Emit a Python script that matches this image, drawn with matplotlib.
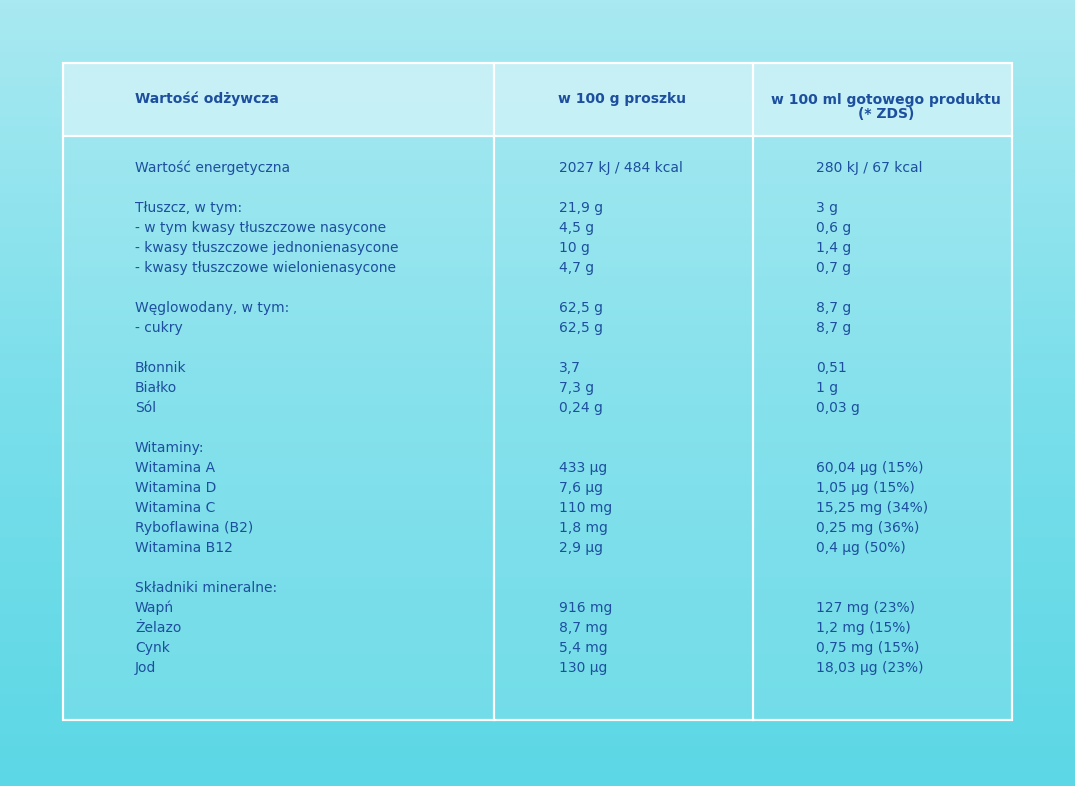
import numpy as np
import matplotlib.pyplot as plt
from matplotlib.patches import Rectangle
from matplotlib.colors import LinearSegmentedColormap

headers = ["Wartość odżywcza", "w 100 g proszku", "w 100 ml gotowego produktu\n(* ZDS)"]

nutrients = [
    "Wartość energetyczna", "",
    "Tłuszcz, w tym:", "- w tym kwasy tłuszczowe nasycone",
    "- kwasy tłuszczowe jednonienasycone", "- kwasy tłuszczowe wielonienasycone", "",
    "Węglowodany, w tym:", "- cukry", "",
    "Błonnik", "Białko", "Sól", "",
    "Witaminy:", "Witamina A", "Witamina D", "Witamina C", "Ryboflawina (B2)", "Witamina B12", "",
    "Składniki mineralne:", "Wapń", "Żelazo", "Cynk", "Jod",
]
per_100g = [
    "2027 kJ / 484 kcal", "",
    "21,9 g", "4,5 g", "10 g", "4,7 g", "",
    "62,5 g", "62,5 g", "",
    "3,7", "7,3 g", "0,24 g", "",
    "", "433 µg", "7,6 µg", "110 mg", "1,8 mg", "2,9 µg", "",
    "", "916 mg", "8,7 mg", "5,4 mg", "130 µg",
]
per_100ml = [
    "280 kJ / 67 kcal", "",
    "3 g", "0,6 g", "1,4 g", "0,7 g", "",
    "8,7 g", "8,7 g", "",
    "0,51", "1 g", "0,03 g", "",
    "", "60,04 µg (15%)", "1,05 µg (15%)", "15,25 mg (34%)", "0,25 mg (36%)", "0,4 µg (50%)", "",
    "", "127 mg (23%)", "1,2 mg (15%)", "0,75 mg (15%)", "18,03 µg (23%)",
]

W, H = 1075, 786
fig = plt.figure(figsize=(W / 100, H / 100), dpi=100)
ax = fig.add_axes([0, 0, 1, 1])
ax.set_xlim(0, W)
ax.set_ylim(H, 0)
ax.axis("off")

# background gradient
grad = np.linspace(0, 1, 256)[:, None]
cmap = LinearSegmentedColormap.from_list("bg", ["#a9e9f1", "#7adfeb", "#5cd7e5"])
ax.imshow(grad, cmap=cmap, extent=[0, W, H, 0], aspect="auto", zorder=0)

left, right, top, bottom = 63, 1012, 63, 720
col1, col2 = 494, 753
header_bottom = 136
ax.add_patch(Rectangle((left, top), right - left, header_bottom - top,
                       facecolor="#d4f4f8", alpha=0.75, edgecolor="none", zorder=1))
ax.add_patch(Rectangle((left, header_bottom), right - left, bottom - header_bottom,
                       facecolor="#b8eef4", alpha=0.2, edgecolor="none", zorder=1))
lw = 1.6
ax.add_patch(Rectangle((left, top), right - left, bottom - top,
                       facecolor="none", edgecolor="white", lw=lw, zorder=3))
ax.plot([col1, col1], [top, bottom], color="white", lw=lw, zorder=3)
ax.plot([col2, col2], [top, bottom], color="white", lw=lw, zorder=3)
ax.plot([left, right], [header_bottom, header_bottom], color="white", lw=lw, zorder=3)

tc = "#1d4f9e"
fs = 10
ax.text(135, 99, headers[0], color=tc, fontsize=fs, fontweight="bold", va="center", zorder=4)
ax.text(622, 99, headers[1], color=tc, fontsize=fs, fontweight="bold", va="center", ha="center", zorder=4)
ax.text(886, 107, headers[2], color=tc, fontsize=fs, fontweight="bold", va="center",
        ha="center", linespacing=0.95, zorder=4)

y0, step = 168, 20
for i, (a, b, c) in enumerate(zip(nutrients, per_100g, per_100ml)):
    y = y0 + i * step
    ax.text(135, y, a, color=tc, fontsize=fs, va="center", zorder=4)
    ax.text(559, y, b, color=tc, fontsize=fs, va="center", zorder=4)
    ax.text(816, y, c, color=tc, fontsize=fs, va="center", zorder=4)

fig.savefig("out.png", dpi=100)
